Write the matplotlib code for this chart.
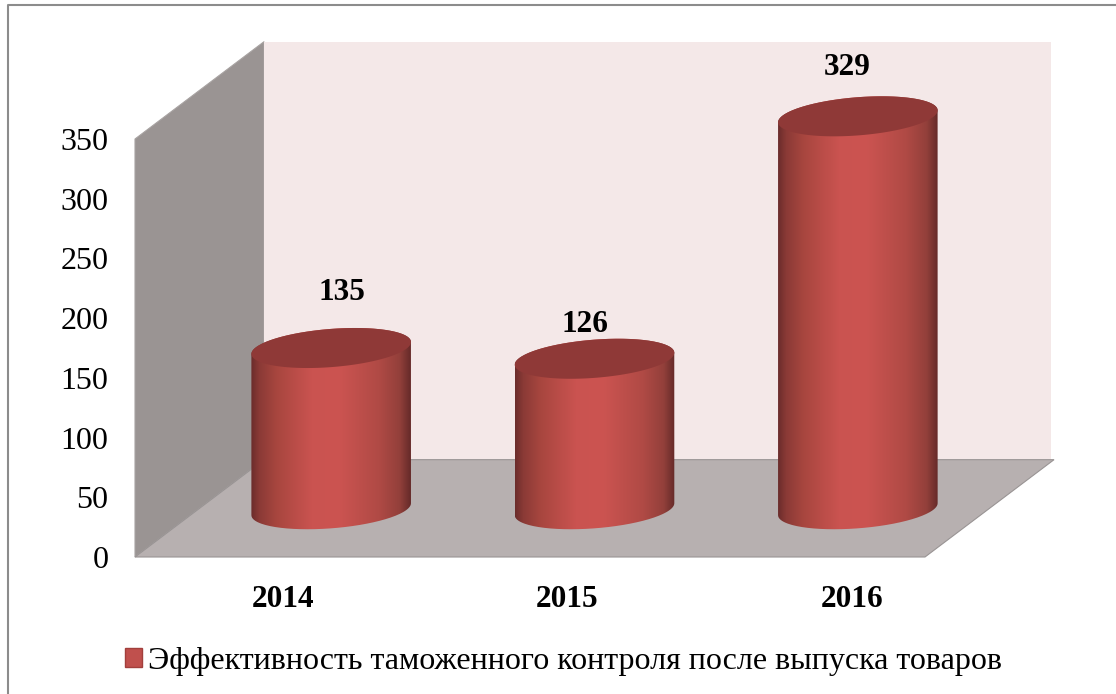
import numpy as np
import matplotlib
matplotlib.use('Agg')
import matplotlib.pyplot as plt
from matplotlib.colors import LinearSegmentedColormap
from matplotlib.lines import Line2D
from matplotlib.patches import Patch, PathPatch, Polygon
from matplotlib.path import Path

plt.rcParams['font.family'] = ['Liberation Serif', 'DejaVu Serif']

years = ['2014', '2015', '2016']
values = [135, 126, 329]
series_name = 'Эффективность таможенного контроля после выпуска товаров'
y_ticks = [0, 50, 100, 150, 200, 250, 300, 350]

# depth of the 3d box, in data units
DEPTH_X = 0.49
DEPTH_Y = 81.5
# cylinders stand half way into the box
BASE_X = 0.245
BASE_Y = 40
# ellipse of a cylinder end: half width, half height, tilt
RX = 0.303
RY = 16
TILT = 5

# hand placed label offsets in the original, pixels from the cylinder top
label_dx = [11, -10, -11]
label_dy = [55, 34, 49]

cyl_cmap = LinearSegmentedColormap.from_list('cyl', [
    (0.0, '#6b2c2b'), (0.05, '#8a3a36'), (0.16, '#a8463f'), (0.38, '#ca5350'),
    (0.55, '#cc5451'), (0.80, '#b04a45'), (0.93, '#93403b'), (1.0, '#662a29'),
])

fig = plt.figure(figsize=(11.16, 6.94), dpi=100)
ax = fig.add_axes([135 / 1116, 1 - 557 / 694, 790 / 1116, 418 / 694])

# box walls
back_right = 2.5 + DEPTH_X - 0.01
ax.add_patch(Polygon([(-0.5, 0), (-0.5 + DEPTH_X, DEPTH_Y), (-0.5 + DEPTH_X, 350 + DEPTH_Y), (-0.5, 350)],
                     fc='#9a9493', ec='#a8a3a2', lw=0.8, clip_on=False, zorder=1))
ax.add_patch(Polygon([(-0.5 + DEPTH_X, DEPTH_Y), (back_right, DEPTH_Y), (back_right, 350 + DEPTH_Y), (-0.5 + DEPTH_X, 350 + DEPTH_Y)],
                     fc='#f4e8e8', ec='none', clip_on=False, zorder=1))
ax.add_patch(Polygon([(-0.5, 0), (2.5, 0), (2.5 + DEPTH_X, DEPTH_Y), (-0.5 + DEPTH_X, DEPTH_Y)],
                     fc='#b7b0b0', ec='#999494', lw=0.8, clip_on=False, zorder=2))

t = np.linspace(0, 2 * np.pi, 200)
gradient = np.linspace(0, 1, 256).reshape(1, -1)
for i, v in enumerate(values):
    cx = i + BASE_X
    top = BASE_Y + v
    # body outline: lower half of the bottom ellipse, then upper half of the top one
    lower = np.linspace(np.pi, 2 * np.pi, 100)
    bx = cx + RX * np.cos(lower)
    by = BASE_Y + TILT * np.cos(lower) + RY * np.sin(lower)
    upper = np.linspace(0, np.pi, 100)
    ux = cx + RX * np.cos(upper)
    uy = top + TILT * np.cos(upper) + RY * np.sin(upper)
    body = np.column_stack([np.r_[bx, ux], np.r_[by, uy]])
    body = np.vstack([body, body[0]])

    im = ax.imshow(gradient, cmap=cyl_cmap, aspect='auto', zorder=3,
                   extent=[cx - RX, cx + RX, BASE_Y - 40, top + 40])
    clip = PathPatch(Path(body), transform=ax.transData, fc='none', ec='none')
    im.set_clip_box(fig.bbox)
    im.set_clip_path(clip)

    ax.fill(cx + RX * np.cos(t), top + TILT * np.cos(t) + RY * np.sin(t),
            color='#8f3937', lw=0, clip_on=False, zorder=4)

    ax.annotate(str(v), (cx, top), xytext=(label_dx[i] * 0.72, label_dy[i] * 0.72),
                textcoords='offset points', ha='center', va='center',
                fontsize=22.5, fontweight='bold', annotation_clip=False, zorder=5)

ax.set_xlim(-0.5, 2.5)
ax.set_ylim(0, 350)
ax.set_yticks(y_ticks)
ax.set_xticks([])
ax.tick_params(axis='y', length=0, labelsize=23, pad=19)
for s in ax.spines.values():
    s.set_visible(False)
ax.patch.set_visible(False)

# year labels sit a bit wider apart than the categories
for i, year in enumerate(years):
    ax.text(0.062 + 1.08 * i, -36, year, ha='center', va='center',
            fontsize=22.5, fontweight='bold', clip_on=False)

handle = Patch(fc='#c0504d', ec='#a23f3c', lw=1)
fig.legend([handle], [series_name], loc='center left', bbox_to_anchor=(125 / 1116, 1 - 661 / 694),
           frameon=False, fontsize=23, handlelength=0.53, handleheight=0.53,
           handletextpad=0.2, borderpad=0, borderaxespad=0)

# frame of the picture, only left and top show
fig.add_artist(Line2D([7.5 / 1116, 7.5 / 1116, 1], [0, 1 - 5 / 694, 1 - 5 / 694], color='#8c8c8c', lw=1.5))

fig.savefig('out.png', dpi=100)
